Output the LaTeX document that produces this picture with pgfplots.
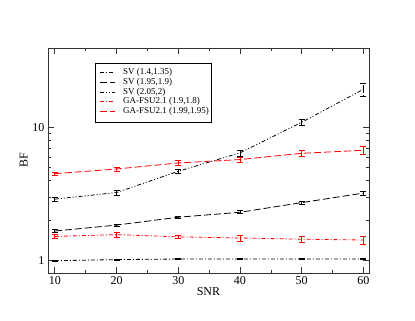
\documentclass[border=0pt]{standalone}
\usepackage{fontspec}
\setmainfont{Liberation Serif}
\usepackage{pgfplots}
\pgfplotsset{compat=1.18}

\tikzset{
  dd/.style={dash pattern=on 4pt off 2pt on 1pt off 2pt},
  ld/.style={dash pattern=on 7pt off 3pt},
  ddd/.style={dash pattern=on 4pt off 2pt on 1pt off 2pt on 1pt off 2pt},
  legtext/.style={anchor=mid west, inner sep=0pt, font=\fontsize{9}{10}\selectfont},
}

\begin{document}
\begin{tikzpicture}[x=1pt,y=1pt]
\path[use as bounding box] (-48,-48) rectangle (367,273);
\begin{axis}[
    at={(0,0)}, anchor=south west,
    scale only axis,
    width=321pt, height=225pt,
    ymode=log,
    xmin=8.9, xmax=60.9,
    ymin=0.8, ymax=40,
    xtick={10,20,30,40,50,60},
    xticklabels={10,20,30,40,50,60},
    minor x tick num=1,
    ytick={1,10},
    yticklabels={1,10},
    xlabel={SNR},
    ylabel={BF},
    axis line style={line width=0.9pt, black!80},
    major tick length=6pt,
    minor tick length=3pt,
    every tick/.style={black!80, line width=0.6pt},
    tick label style={font=\fontsize{12}{14}\selectfont},
    label style={font=\fontsize{12}{14}\selectfont},
    xlabel style={yshift=4pt},
    ylabel style={yshift=-2pt},
    /pgf/number format/assume math mode=true,
    error bars/y dir=both,
    error bars/y explicit,
    error bars/error mark options={rotate=90, mark size=3pt, line width=0.6pt},
    error bars/error bar style={line width=0.6pt},
]
\addplot[black, line width=0.8pt, dd]
  coordinates {(10,0.99) +- (0,0.012) (20,1.01) +- (0,0.012) (30,1.02) +- (0,0.012)
               (40,1.02) +- (0,0.012) (50,1.02) +- (0,0.012) (60,1.02) +- (0,0.012)};
\addplot[black, line width=0.8pt, ld]
  coordinates {(10,1.66) +- (0,0.04) (20,1.84) +- (0,0.03) (30,2.11) +- (0,0.04)
               (40,2.30) +- (0,0.06) (50,2.72) +- (0,0.08) (60,3.21) +- (0,0.12)};
\addplot[black, line width=0.8pt, ddd]
  coordinates {(10,2.89) +- (0,0.10) (20,3.24) +- (0,0.13) (30,4.69) +- (0,0.16)
               (40,6.46) +- (0,0.35) (50,11.0) +- (0,0.65) (60,19.5) +- (0,2.2)};
\addplot[red, line width=0.8pt, dd]
  coordinates {(10,1.51) +- (0,0.05) (20,1.56) +- (0,0.06) (30,1.50) +- (0,0.05)
               (40,1.47) +- (0,0.07) (50,1.44) +- (0,0.08) (60,1.42) +- (0,0.10)};
\addplot[red, line width=0.8pt, ld]
  coordinates {(10,4.50) +- (0,0.12) (20,4.88) +- (0,0.16) (30,5.42) +- (0,0.22)
               (40,5.75) +- (0,0.22) (50,6.41) +- (0,0.30) (60,6.76) +- (0,0.42)};
% legend, drawn inside the axis after the plots
\draw[black, line width=0.6pt, fill=white]
  (axis description cs:0.1464,0.932) rectangle (axis description cs:0.5093,0.668);
\draw[draw=black, line width=1pt, dd]  (axis description cs:0.162,0.8902) -- (axis description cs:0.2087,0.8902);
\draw[draw=black, line width=1pt, ld]  (axis description cs:0.162,0.8476) -- (axis description cs:0.2087,0.8476);
\draw[draw=black, line width=1pt, ddd] (axis description cs:0.162,0.8044) -- (axis description cs:0.2087,0.8044);
\draw[draw=red,   line width=1pt, dd]  (axis description cs:0.162,0.7613) -- (axis description cs:0.2087,0.7613);
\draw[draw=red,   line width=1pt, ld]  (axis description cs:0.162,0.7187) -- (axis description cs:0.2087,0.7187);
\node[legtext] at (axis description cs:0.2336,0.8902) {SV (1.4,1.35)};
\node[legtext] at (axis description cs:0.2336,0.8476) {SV (1.95,1.9)};
\node[legtext] at (axis description cs:0.2336,0.8044) {SV (2.05,2)};
\node[legtext] at (axis description cs:0.2336,0.7613) {GA-FSU2.1 (1.9,1.8)};
\node[legtext] at (axis description cs:0.2336,0.7187) {GA-FSU2.1 (1.99,1.95)};
\end{axis}
\end{tikzpicture}
\end{document}
